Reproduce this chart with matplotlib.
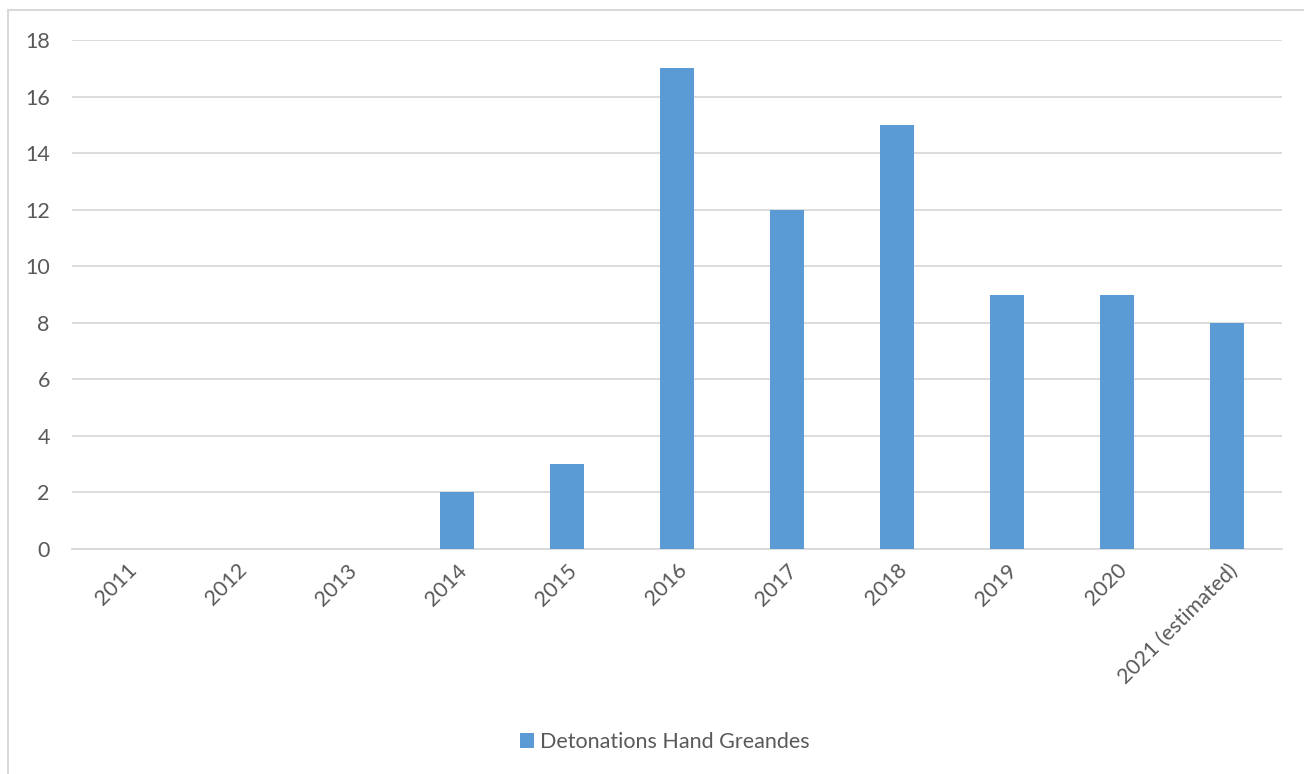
import matplotlib.pyplot as plt
from matplotlib.patches import Rectangle

years = ['2011', '2012', '2013', '2014', '2015', '2016', '2017', '2018',
         '2019', '2020', '2021 (estimated)']
detonations = [0, 0, 0, 2, 3, 17, 12, 15, 9, 9, 8]
yticks = [0, 2, 4, 6, 8, 10, 12, 14, 16, 18]

plt.rcParams['font.family'] = ['Lato', 'DejaVu Sans']
text_color = '#595959'
grid_color = '#d9d9d9'
bar_color = '#5b9bd5'
fs = 15.5

fig = plt.figure(figsize=(13.04, 7.74), dpi=100)
ax = fig.add_axes([72 / 1304, 1 - 549 / 774, (1282 - 72) / 1304, (549 - 40) / 774])

# chart frame (left and top edges visible only)
fig.patches.append(Rectangle((8 / 1304, -0.1), 1.2, 1 - 10 / 774 + 0.1,
                             transform=fig.transFigure, fill=False,
                             edgecolor=grid_color, linewidth=1.5))

x = list(range(len(years)))
ax.bar(x, detonations, width=0.31, color=bar_color, label='Detonations Hand Greandes', zorder=3)

ax.set_xlim(-0.5, len(years) - 0.5)
ax.set_ylim(0, 18)
ax.set_yticks(yticks)
ax.yaxis.grid(True, color=grid_color, linewidth=1.3, zorder=0)
ax.set_axisbelow(True)
for s in ['top', 'right', 'left']:
    ax.spines[s].set_visible(False)
ax.spines['bottom'].set_color(grid_color)
ax.spines['bottom'].set_linewidth(1.3)

ax.set_xticks(x)
ax.set_xticklabels(years, rotation=45, ha='right', va='top', rotation_mode='anchor',
                   fontsize=fs, color=text_color)
ax.tick_params(axis='x', length=0, pad=8)
ax.tick_params(axis='y', length=0, pad=16, labelsize=fs, labelcolor=text_color)

fig.legend(loc='center', bbox_to_anchor=(665 / 1304, 1 - 742 / 774), frameon=False,
           fontsize=fs, labelcolor=text_color, handlelength=0.65, handleheight=0.65,
           handletextpad=0.3)

fig.savefig('out.png', dpi=100)
